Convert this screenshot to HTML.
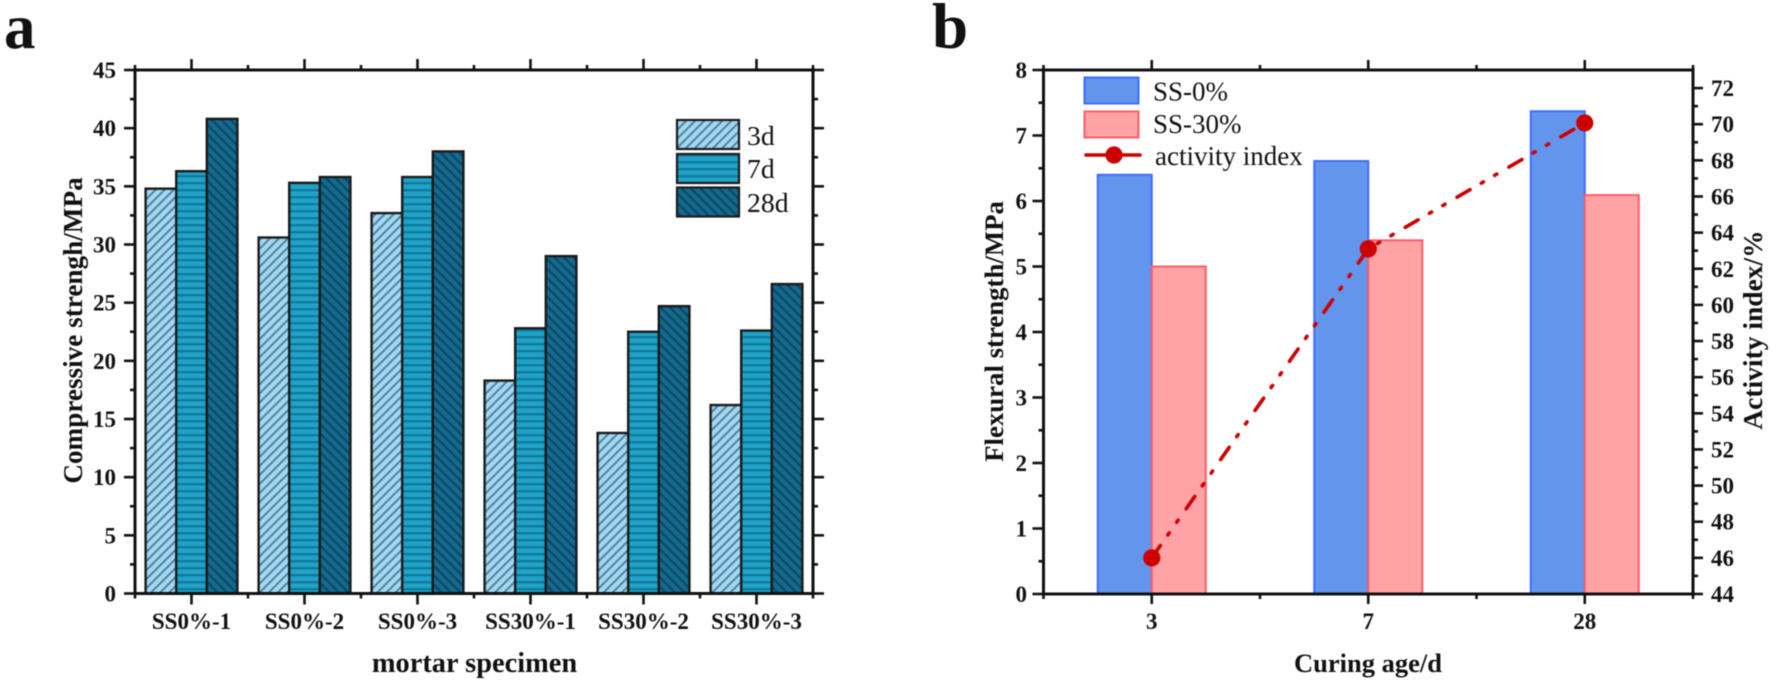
<!DOCTYPE html>
<html><head><meta charset="utf-8"><title>Strength charts</title>
<style>
html,body{margin:0;padding:0;background:#fff;width:1772px;height:683px;overflow:hidden}
svg{display:block;filter:blur(0.55px)}
text{font-family:"Liberation Serif",serif;fill:#111}
.b{font-weight:bold}
</style></head><body>
<svg id="fig" xmlns="http://www.w3.org/2000/svg" width="1772" height="683" viewBox="0 0 1772 683">
<defs>
<pattern id="h3" patternUnits="userSpaceOnUse" width="6.4" height="6.4" patternTransform="rotate(-45)"><rect width="6.4" height="6.4" fill="#9fd9f6"/><rect width="6.4" height="2" fill="#5a7f95"/></pattern>
<pattern id="h7" patternUnits="userSpaceOnUse" width="7" height="7"><rect width="7" height="7" fill="#20a3c8"/><rect width="7" height="2.4" fill="#107a9a"/></pattern>
<pattern id="h28" patternUnits="userSpaceOnUse" width="6.6" height="6.6" patternTransform="rotate(45)"><rect width="6.6" height="6.6" fill="#14698e"/><rect width="6.6" height="2" fill="#0b4560"/></pattern>
</defs>
<g id="chartA"></g>
<g id="chartB"></g>
<text class="b" x="4" y="48" font-size="63">a</text>
<text class="b" x="932" y="48" font-size="65">b</text>
<text class="b" x="0" y="0" font-size="27.2" text-anchor="middle" transform="translate(82,330.5) rotate(-90)">Compressive strengh/MPa</text>
<text class="b" x="474.5" y="672" font-size="28.4" text-anchor="middle">mortar specimen</text>
<text class="b" x="0" y="0" font-size="26.8" text-anchor="middle" transform="translate(1003,331.5) rotate(-90)">Flexural strength/MPa</text>
<text class="b" x="0" y="0" font-size="27.5" text-anchor="middle" transform="translate(1762,330) rotate(-90)">Activity index/%</text>
<text class="b" x="1368" y="672" font-size="26.5" text-anchor="middle">Curing age/d</text>
</svg>
<script>
// Panel a data
const categoriesA = ["SS0%-1","SS0%-2","SS0%-3","SS30%-1","SS30%-2","SS30%-3"];
const seriesA3d = [34.8,30.6,32.7,18.3,13.8,16.2];
const seriesA7d = [36.3,35.3,35.8,22.8,22.5,22.6];
const seriesA28d = [40.8,35.8,38.0,29.0,24.7,26.6];
const ticksA = [0,5,10,15,20,25,30,35,40,45];
const legendA = ["3d","7d","28d"];
// Panel b data
const categoriesB = ["3","7","28"];
const seriesSS0 = [6.4,6.61,7.37];
const seriesSS30 = [5.0,5.4,6.09];
const activityIndex = [46,63.1,70.07];
const ticksBLeft = [0,1,2,3,4,5,6,7,8];
const ticksBRight = [44,46,48,50,52,54,56,58,60,62,64,66,68,70,72];
const legendB = ["SS-0%","SS-30%","activity index"];

const NS = "http://www.w3.org/2000/svg";
const AX = "#111";
function mk(parent, tag, attrs, txt){
  const e = document.createElementNS(NS, tag);
  for (const k in attrs) e.setAttribute(k, attrs[k]);
  if (txt !== undefined) e.textContent = txt;
  parent.appendChild(e);
  return e;
}
function tickLine(parent, x1, y1, x2, y2, w){
  const t = mk(parent, "line", {x1:x1, y1:y1, x2:x2, y2:y2, stroke:AX, "stroke-width":w});
  
  
}
function tickLabel(parent, x, y, anchor, s){
  const t = mk(parent, "text", {x:x, y:y, "text-anchor":anchor, "font-size":23, "font-weight":"bold"}, s);
  
  
}
function frame(parent, L, R, T, B){
  const r = mk(parent, "rect", {x:L, y:T, width:R-L, height:B-T, fill:"none", stroke:AX, "stroke-width":3});
  
  
}

/* ---------- panel a ---------- */
(function(){
  const g = document.getElementById("chartA");
  const L=135, R=813, T=70, B=593.5;
  const yMax = ticksA[ticksA.length-1];
  const y = v => B - v/yMax*(B-T);
  const n = categoriesA.length;
  const x = i => L + (i+0.5)/n*(R-L);
  const bw = 30.6;
  const fills = ["url(#h3)","url(#h7)","url(#h28)"];
  const all = [seriesA3d, seriesA7d, seriesA28d];
  all.forEach(function(s, si){
    s.forEach(function(v, i){
      const b = mk(g, "rect", {x:x(i)-1.5*bw+si*bw, y:y(v), width:bw, height:B-y(v), fill:fills[si], stroke:"#1a1a1a", "stroke-width":2.4});
      
      
    });
  });
  frame(g, L, R, T, B);
  ticksA.forEach(function(v, i){
    const yy = y(v);
    tickLine(g, L-11, yy, L, yy, 2.6);
    tickLine(g, R, yy, R+11, yy, 2.6);
    tickLabel(g, 116, yy+8, "end", String(v));
    if (i < ticksA.length-1){
      const m = y((v + ticksA[i+1])/2);
      tickLine(g, L-5, m, L, m, 2.6);
      tickLine(g, R, m, R+5, m, 2.6);
    }
  });
  categoriesA.forEach(function(c, i){
    tickLine(g, x(i), B, x(i), B+11, 2.6);
    tickLine(g, x(i), T-11, x(i), T, 2.6);
    tickLabel(g, x(i), 629, "middle", c);
  });
  for (let i=0; i<=n; i++){
    const xx = L + i/n*(R-L);
    tickLine(g, xx, B, xx, B+5, 2.6);
    tickLine(g, xx, T-5, xx, T, 2.6);
  }
  const legY = [120,154,187.5];
  const txtY = [145,178,212];
  legendA.forEach(function(s, i){
    const r = mk(g, "rect", {x:677, y:legY[i], width:62, height:29, fill:fills[i], stroke:"#1a1a1a", "stroke-width":2.2});
    
    
    const t = mk(g, "text", {x:747, y:txtY[i], "font-size":27.7}, s);
    
    
  });
})();

/* ---------- panel b ---------- */
(function(){
  const g = document.getElementById("chartB");
  const L=1043.5, R=1693, T=70, B=594;
  const yL = v => B - v/8*(B-T);
  const rMin = 44, rMax = 73;
  const yR = v => B - (v-rMin)/(rMax-rMin)*(B-T);
  const n = categoriesB.length;
  const x = i => L + (i+0.5)/n*(R-L);
  const bw = 54;
  seriesSS0.forEach(function(v, i){
    const b = mk(g, "rect", {x:x(i)-bw, y:yL(v), width:bw, height:B-yL(v), fill:"#6495ed", stroke:"#3e6cff", "stroke-width":2});
    
    
  });
  seriesSS30.forEach(function(v, i){
    const b = mk(g, "rect", {x:x(i), y:yL(v), width:bw, height:B-yL(v), fill:"#ffa3a7", stroke:"#ff5c66", "stroke-width":2});
    
    
  });
  frame(g, L, R, T, B);
  ticksBLeft.forEach(function(v, i){
    const yy = yL(v);
    tickLine(g, L-11, yy, L, yy, 2.6);
    tickLabel(g, 1027, yy+8, "end", String(v));
    if (i < ticksBLeft.length-1){
      const m = yL((v + ticksBLeft[i+1])/2);
      tickLine(g, L-5, m, L, m, 2.6);
    }
  });
  ticksBRight.forEach(function(v){
    const yy = yR(v);
    tickLine(g, R, yy, R+10, yy, 2.6);
    tickLabel(g, 1711, yy+8, "start", String(v));
  });
  ticksBRight.concat([ticksBRight[ticksBRight.length-1]+2]).forEach(function(v){
    const m = yR(v-1);
    if (v-1 > rMin && v-1 < rMax) tickLine(g, R, m, R+5, m, 2.6);
  });
  categoriesB.forEach(function(c, i){
    tickLine(g, x(i), B, x(i), B+10, 2.6);
    tickLine(g, x(i), T-10, x(i), T, 2.6);
    tickLabel(g, x(i), 629, "middle", c);
  });
  for (let i=0; i<=n; i++){
    const xx = L + i/n*(R-L);
    tickLine(g, xx, B, xx, B+5, 2.6);
    tickLine(g, xx, T-5, xx, T, 2.6);
  }
  const pts = activityIndex.map(function(v, i){ return x(i) + "," + yR(v); }).join(" ");
  const line = mk(g, "polyline", {points:pts, fill:"none", stroke:"#cc0000", "stroke-width":3.6, "stroke-linecap":"round", "stroke-dasharray":"15 13 2.5 13 2.5 14"});
  
  
  activityIndex.forEach(function(v, i){
    const c = mk(g, "circle", {cx:x(i), cy:yR(v), r:8.6, fill:"#cc0000"});
    
    
  });
  const s0 = mk(g, "rect", {x:1084.5, y:77.5, width:54, height:26, fill:"#6495ed", stroke:"#3e6cff", "stroke-width":2});
  
  
  const s1 = mk(g, "rect", {x:1084.5, y:111.5, width:54, height:26, fill:"#ffa3a7", stroke:"#ff5c66", "stroke-width":2});
  
  
  const s2 = mk(g, "line", {x1:1086, y1:155, x2:1140, y2:155, stroke:"#cc0000", "stroke-width":3.6, "stroke-linecap":"round"});
  
  
  const s3 = mk(g, "circle", {cx:1114, cy:155, r:8.6, fill:"#cc0000"});
  
  
  const ty = [100.5,133,165];
  const tx = [1153,1153,1155];
  legendB.forEach(function(s, i){
    const t = mk(g, "text", {x:tx[i], y:ty[i], "font-size":27}, s);
    
    
  });
})();
</script>
</body></html>
